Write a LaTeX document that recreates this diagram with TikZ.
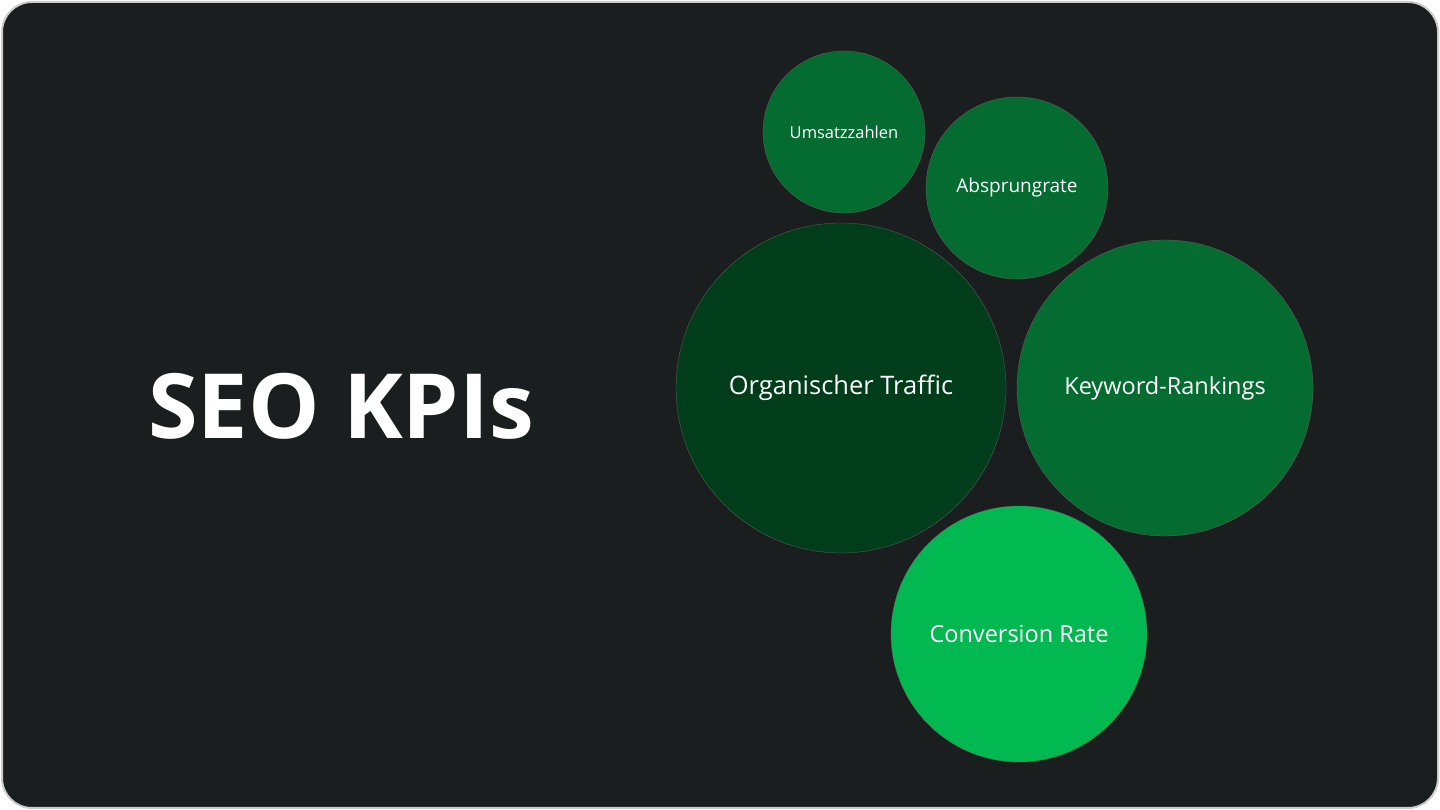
\documentclass[tikz,border=0pt]{standalone}
\usepackage{fontspec}
\setmainfont{Open Sans}
\definecolor{bg}{HTML}{1B1E1E}
\definecolor{mid}{HTML}{046B31}
\definecolor{dark}{HTML}{003D1A}
\definecolor{bright}{HTML}{01B851}
\begin{document}
\begin{tikzpicture}[x=1pt,y=1pt,
  bub/.style={circle,inner sep=0pt,text=white,draw=black!60,line width=0.3pt}]
\useasboundingbox (0,0) rectangle (1440,810);
\fill[white] (0,0) rectangle (1440,810);
\draw[fill=bg,draw=gray!40,line width=2pt,rounded corners=30] (2,2) rectangle (1438,808);
\node[text=white,font=\bfseries\fontsize{90}{100}\selectfont] (title) at (341,404) {SEO KPIs};
\node[bub,fill=mid,minimum size=162,font=\fontsize{16.5}{18}\selectfont] (u) at (844,678) {Umsatzzahlen};
\node[bub,fill=mid,minimum size=182,font=\fontsize{19}{20}\selectfont] (a) at (1017,622) {Absprungrate};
\node[bub,fill=dark,minimum size=330,font=\fontsize{25.5}{28}\selectfont] (o) at (841,422) {Organischer Traffic};
\node[bub,fill=mid,minimum size=296,font=\fontsize{23.5}{26}\selectfont] (k) at (1165,422) {Keyword-Rankings};
\node[bub,fill=bright,minimum size=256,font=\fontsize{23.5}{26}\selectfont] (c) at (1019,176) {Conversion Rate};
\end{tikzpicture}
\end{document}
